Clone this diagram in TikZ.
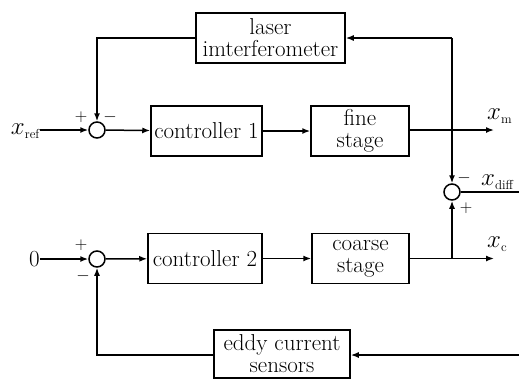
\documentclass[tikz,border=0pt]{standalone}
\usetikzlibrary{arrows.meta}
\newcommand{\sublbl}[1]{\hbox{\fontsize{13}{13}\selectfont #1}}
\begin{document}
\begin{tikzpicture}[x=1pt,y=-1pt,
  every node/.style={font=\fontsize{23}{22}\selectfont},
  blk/.style={draw,line width=1.5pt,minimum height=50pt,inner sep=0pt,align=center},
  sumc/.style={draw,circle,line width=1.5pt,minimum size=16pt,inner sep=0pt},
  sgn/.style={font=\fontsize{17}{17}\selectfont,inner sep=0pt},
  lbl/.style={inner sep=0pt,font=\fontsize{26}{26}\selectfont},
  conn/.style={line width=1.5pt},
  arr/.style={conn,-{Latex[length=8pt,width=6pt]}}]
\useasboundingbox (0,0) rectangle (519,381);
% blocks
\node[blk,minimum width=149pt] (laser) at (270.5,38) {laser\\imterferometer};
\node[blk,minimum width=111pt] (ctrl1) at (206.5,131) {controller 1};
\node[blk,minimum width=98pt] (fine) at (360,131) {fine\\stage};
\node[blk,minimum width=114pt] (ctrl2) at (205,258.5) {controller 2};
\node[blk,minimum width=97pt] (coarse) at (360.5,258.5) {coarse\\stage};
\node[blk,minimum width=136pt,minimum height=48pt] (eddy) at (282,354) {eddy current\\sensors};
% summing junctions
\node[sumc] (sum1) at (97,130) {};
\node[sumc] (sum2) at (97,259) {};
\node[sumc] (diff) at (452,192) {};
% inputs / outputs
\node[lbl,anchor=east] (xref) at (40,131) {$x_{\sublbl{ref}}$};
\node[inner sep=0pt,anchor=east] (zero) at (40,259) {0};
\coordinate (xmend) at (494,130);
\coordinate (xcend) at (494,258.5);
\coordinate (diffend) at (519,192);
\coordinate (eddyin) at (519,355);
\coordinate (tr) at (452,38);
\coordinate (tl) at (97,38);
\coordinate (bl) at (97,355);
\coordinate (br) at (452,258.5);
\node[lbl,anchor=west] (xm) at (487,116) {$x_{\sublbl{m}}$};
\node[lbl,anchor=west] (xc) at (487,244) {$x_{\sublbl{c}}$};
\node[lbl,anchor=west] (xdiff) at (481,182) {$x_{\sublbl{diff}}$};
% signs
\node[sgn] (s1p) at (81,117) {$+$};
\node[sgn] (s1m) at (110,117) {$-$};
\node[sgn] (s2p) at (81,245) {$+$};
\node[sgn] (s2m) at (83,276) {$-$};
\node[sgn] (dm) at (464,178) {$-$};
\node[sgn] (dp) at (466,208) {$+$};
% connectors
\draw[arr] (xref.east |- sum1) -- (sum1);
\draw[arr] (sum1) -- (ctrl1);
\draw[arr] (ctrl1) -- (fine);
\draw[arr] (fine.east |- xmend) -- (xmend);
\draw[arr] (laser.west) -- (tl) -- (sum1.north);
\draw[arr] (tr) -- (laser.east);
\draw[arr] (tr) -- (diff.north);
\draw[conn] (diff.east) -- (diffend);
\draw[arr] (zero) -- (sum2);
\draw[arr] (sum2) -- (ctrl2);
\draw[arr] (ctrl2) -- (coarse);
\draw[arr] (coarse.east |- xcend) -- (xcend);
\draw[arr] (br) -- (diff.south);
\draw[arr] (eddyin) -- (eddy.east |- eddyin);
\draw[arr] (eddy.west |- bl) -- (bl) -- (sum2.south);
\end{tikzpicture}
\end{document}
